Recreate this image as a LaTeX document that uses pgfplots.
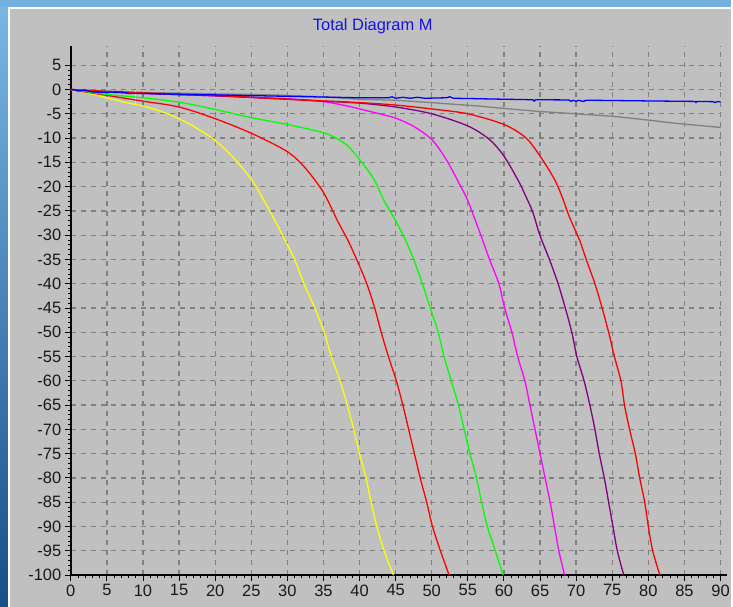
\documentclass[border=0pt]{standalone}
\usepackage{fontspec}
\setmainfont{Liberation Sans}
\usepackage{pgfplots}
\pgfplotsset{compat=1.18}

\definecolor{panel}{HTML}{C0C0C0}
\definecolor{gridgray}{HTML}{808080}
\definecolor{topblue}{HTML}{72B0E0}
\definecolor{deskhi}{HTML}{7BB7E6}
\definecolor{desklo}{HTML}{174F8A}
\definecolor{titleblue}{HTML}{1414E6}
\definecolor{cyellow}{HTML}{FFFF00}
\definecolor{cred}{HTML}{FF0000}
\definecolor{cgreen}{HTML}{00FF00}
\definecolor{cmagenta}{HTML}{FF00FF}
\definecolor{cpurple}{HTML}{800080}
\definecolor{cblue}{HTML}{0000FF}
\definecolor{cgray}{HTML}{808080}

\begin{document}
\begin{tikzpicture}
% window background
\fill[panel] (0,0) rectangle (733pt,609pt);
\shade[top color=deskhi, bottom color=desklo] (0,0) rectangle (8.3pt,609pt);
\fill[white] (8.3pt,0) rectangle (10pt,601.7pt);
\fill[topblue] (0,601.7pt) rectangle (733pt,609pt);
\fill[white] (8.3pt,600pt) rectangle (733pt,601.7pt);

\node[text=titleblue, font=\fontsize{16.5}{19}\selectfont] at (374pt,583pt) {Total Diagram M};

\begin{axis}[
    at={(71pt,32pt)}, anchor=south west,
    scale only axis,
    width=652pt, height=531pt,
    xmin=0, xmax=90, ymin=-100, ymax=9,
    axis lines*=left,
    axis line style={black, line width=2.2pt},
    x axis line style={shorten >=-6.5pt},
    xtick={0,5,...,90},
    ytick={-100,-95,...,5},
    minor x tick num=4,
    minor y tick num=4,
    tick align=outside,
    major tick length=6pt,
    minor tick length=3pt,
    tick style={black, line width=0.9pt},
    grid=major,
    major grid style={gridgray, line width=1.3pt, dash pattern=on 5pt off 5pt},
    tick label style={font=\fontsize{16.5}{19}\selectfont, text=black!90},
    /pgf/number format/assume math mode=true,
    clip=false,
    every axis plot/.append style={line width=1.3pt, line join=round},
]
% gray
\addplot[cgray] coordinates {
(0,0)(10,-0.6)(20,-0.9)(25,-1.0)(30,-1.2)(35,-1.5)(40,-2.0)(45,-2.2)(50,-2.7)
(56.5,-3.4)(60,-3.9)(64.7,-4.5)(70,-5.0)(75,-5.5)(80,-6.3)(84,-7.0)(90,-7.8)
};
% yellow
\addplot[cyellow, smooth, tension=0.5] coordinates {
(0,0)(2,-0.6)(5,-1.7)(8,-2.8)(10,-3.4)(12.5,-4.5)
(15,-6.0)(17.5,-8.0)(20,-10.5)(22.5,-14)(25,-18.5)(27.5,-24.8)(29.5,-30.5)(31,-35)
(32.3,-40)(33.8,-45)(35.1,-50)(36.1,-55)(37.3,-60)(38.3,-65)(39.2,-70)(40,-75)
(40.9,-80)(41.6,-85)(42.4,-90)(43.4,-95)(44.7,-100)
};
\addplot[cyellow, line width=1pt] coordinates {(9,-3.2)(9,-0.3)};
% red 1
\addplot[cred, smooth, tension=0.5] coordinates {
(0,0)(2,-0.5)(5,-1.2)(10,-2.4)(15,-3.6)(20,-6.0)(25,-9.0)(30,-12.8)(32.5,-16.2)
(35,-21.2)(37,-27.2)(38.3,-30.8)(39.6,-35)(41,-40)(42.1,-45)(43,-50)(44,-55)
(45.1,-60)(46,-65)(46.8,-70)(47.6,-75)(48.4,-80)(49.3,-85)(50.1,-90)(51.2,-95)(52.4,-100)
};
% green
\addplot[cgreen, smooth, tension=0.5] coordinates {
(0,0)(2,-0.4)(5,-1.0)(10,-1.7)(15,-2.6)(20,-4.1)(25,-5.8)(30,-7.2)(35,-8.9)
(37,-10.2)(38.5,-11.8)(40,-14.4)(42,-18.5)(43.4,-22.9)(45,-27)(46.3,-30.8)(47.5,-35)
(48.7,-40)(49.8,-45)(50.9,-50)(51.7,-55)(52.7,-60)(53.7,-65)(54.5,-70)(55.3,-75)
(56.2,-80)(56.9,-85)(57.7,-90)(58.8,-95)(59.9,-100)
};
% magenta
\addplot[cmagenta, smooth, tension=0.5] coordinates {
(0,0)(3,-0.4)(10,-0.8)(20,-1.3)(25,-1.6)(30,-1.9)(35,-2.5)(38,-3.3)(40,-4.0)
(42.5,-4.9)(45,-5.9)(47.5,-7.6)(50,-10.3)(52,-14.4)(54,-19.9)(55,-22.9)(56,-26.8)
(57,-30.8)(58,-35)(59.3,-40)(60.1,-45)(61.1,-50)(61.9,-55)(62.9,-60)(63.6,-65)
(64.3,-70)(65,-75)(65.7,-80)(66.4,-85)(67,-90)(67.6,-95)(68.4,-100)
};
% purple
\addplot[cpurple, smooth, tension=0.5] coordinates {
(0,0)(5,-0.5)(10,-0.8)(20,-1.3)(30,-2.0)(35,-2.4)(40,-2.8)(45,-3.6)(50,-5.0)
(55,-7.5)(58,-10.3)(60,-13.7)(62,-18.8)(63,-21.9)(64,-25.3)(65,-30.1)(66.3,-35)
(67.5,-40)(68.5,-45)(69.4,-50)(70.1,-55)(71.1,-60)(71.9,-65)(72.6,-70)(73.2,-75)
(73.9,-80)(74.5,-85)(75.1,-90)(75.7,-95)(76.6,-100)
};
% red 2
\addplot[cred, smooth, tension=0.5] coordinates {
(0,0)(5,-0.4)(10,-0.7)(20,-1.2)(30,-2.0)(40,-2.7)(45,-3.2)(50,-4.0)(55,-5.0)
(60,-7.2)(63,-9.9)(65,-13.7)(67,-18.5)(68,-21.9)(69,-26)(70,-29.4)(70.6,-31.5)
(71.4,-35)(72.6,-40)(73.6,-45)(74.5,-50)(75.3,-55)(76.2,-60)(76.7,-65)(77.4,-70)
(78.2,-75)(78.8,-80)(79.5,-85)(80,-90)(80.6,-95)(81.6,-100)
};
% blue
\addplot[cblue] coordinates {
(0,0)(0.5,0)(1,-0.3)(2,-0.1)(3,-0.5)(5,-0.6)(7,-0.5)(8,-0.8)(10,-0.8)(15,-1.0)
(20,-1.1)(30,-1.4)(40,-1.7)(44,-1.7)(44.5,-1.5)(45,-1.8)(46,-1.6)(47,-1.8)(48,-1.6)
(49,-1.8)(52,-1.7)(52.5,-1.5)(53,-1.8)(55,-1.85)(60,-2.0)(64,-2.1)(64.2,-2.4)(64.4,-2.1)
(69,-2.15)(69.3,-2.45)(69.6,-2.2)(70,-2.45)(70.3,-2.2)(71,-2.45)(71.4,-2.2)(80,-2.35)
(86.5,-2.45)(86.6,-2.7)(86.7,-2.45)(89,-2.5)(89.2,-2.7)(89.5,-2.5)(90,-2.5)
};
\end{axis}
\end{tikzpicture}
\end{document}
